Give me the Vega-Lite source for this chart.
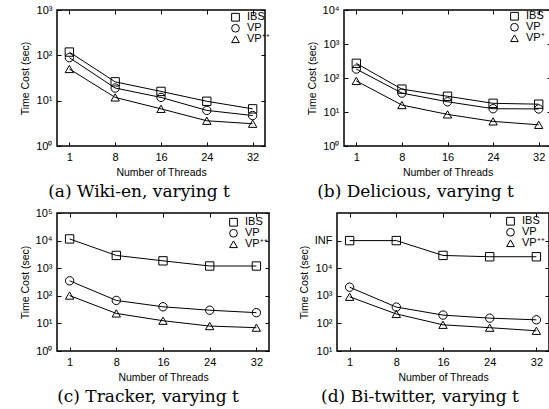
{
  "$schema": "https://vega.github.io/schema/vega-lite/v6.json",
  "padding": {"left": 19, "top": 3, "right": 0, "bottom": 0},
  "background": "white",
  "config": {
    "view": {"stroke": "black", "strokeWidth": 1.5},
    "axis": {"domain": false, "grid": false, "tickColor": "black", "tickSize": -4, "tickWidth": 1,
      "labelFont": "Liberation Sans", "labelFontSize": 11, "labelColor": "black", "labelPadding": 9,
      "titleFont": "Liberation Sans", "titleFontSize": 10.5, "titleFontWeight": "normal", "titleColor": "black", "titlePadding": 5},
    "legend": {"orient": "none", "padding": 0, "rowPadding": -2, "clipHeight": 10.5, "labelFont": "Liberation Sans", "labelFontSize": 11, "labelColor": "black", "labelOffset": 6, "symbolStrokeColor": "black", "symbolStrokeWidth": 1, "symbolSize": 60, "title": null},
    "title": {"orient": "bottom", "font": "DejaVu Serif", "fontSize": 17, "fontWeight": "normal", "color": "black", "offset": 6}
  },
  "datasets": {
    "a": [
      {"t": 1, "time": 118, "method": "IBS"}, {"t": 8, "time": 26, "method": "IBS"}, {"t": 16, "time": 16, "method": "IBS"}, {"t": 24, "time": 9.7, "method": "IBS"}, {"t": 32, "time": 6.6, "method": "IBS"},
      {"t": 1, "time": 89, "method": "VP"}, {"t": 8, "time": 19, "method": "VP"}, {"t": 16, "time": 11.8, "method": "VP"}, {"t": 24, "time": 6.1, "method": "VP"}, {"t": 32, "time": 4.7, "method": "VP"},
      {"t": 1, "time": 50, "method": "VP⁺⁺"}, {"t": 8, "time": 11.8, "method": "VP⁺⁺"}, {"t": 16, "time": 6.6, "method": "VP⁺⁺"}, {"t": 24, "time": 3.6, "method": "VP⁺⁺"}, {"t": 32, "time": 3.1, "method": "VP⁺⁺"}
    ],
    "b": [
      {"t": 1, "time": 270, "method": "IBS"}, {"t": 8, "time": 47, "method": "IBS"}, {"t": 16, "time": 29, "method": "IBS"}, {"t": 24, "time": 18, "method": "IBS"}, {"t": 32, "time": 17, "method": "IBS"},
      {"t": 1, "time": 183, "method": "VP"}, {"t": 8, "time": 36, "method": "VP"}, {"t": 16, "time": 20, "method": "VP"}, {"t": 24, "time": 12.5, "method": "VP"}, {"t": 32, "time": 12.3, "method": "VP"},
      {"t": 1, "time": 82, "method": "VP⁺"}, {"t": 8, "time": 16, "method": "VP⁺"}, {"t": 16, "time": 8.5, "method": "VP⁺"}, {"t": 24, "time": 5.3, "method": "VP⁺"}, {"t": 32, "time": 4.2, "method": "VP⁺"}
    ],
    "c": [
      {"t": 1, "time": 11500, "method": "IBS"}, {"t": 8, "time": 2900, "method": "IBS"}, {"t": 16, "time": 1850, "method": "IBS"}, {"t": 24, "time": 1200, "method": "IBS"}, {"t": 32, "time": 1200, "method": "IBS"},
      {"t": 1, "time": 350, "method": "VP"}, {"t": 8, "time": 68, "method": "VP"}, {"t": 16, "time": 40, "method": "VP"}, {"t": 24, "time": 30, "method": "VP"}, {"t": 32, "time": 24.5, "method": "VP"},
      {"t": 1, "time": 102, "method": "VP⁺⁺"}, {"t": 8, "time": 23, "method": "VP⁺⁺"}, {"t": 16, "time": 12.5, "method": "VP⁺⁺"}, {"t": 24, "time": 8, "method": "VP⁺⁺"}, {"t": 32, "time": 7, "method": "VP⁺⁺"}
    ],
    "d": [
      {"t": 1, "time": 100000, "method": "IBS"}, {"t": 8, "time": 100000, "method": "IBS"}, {"t": 16, "time": 29000, "method": "IBS"}, {"t": 24, "time": 26000, "method": "IBS"}, {"t": 32, "time": 26000, "method": "IBS"},
      {"t": 1, "time": 2050, "method": "VP"}, {"t": 8, "time": 390, "method": "VP"}, {"t": 16, "time": 200, "method": "VP"}, {"t": 24, "time": 155, "method": "VP"}, {"t": 32, "time": 135, "method": "VP"},
      {"t": 1, "time": 920, "method": "VP⁺⁺"}, {"t": 8, "time": 220, "method": "VP⁺⁺"}, {"t": 16, "time": 89, "method": "VP⁺⁺"}, {"t": 24, "time": 70, "method": "VP⁺⁺"}, {"t": 32, "time": 54, "method": "VP⁺⁺"}
    ]
  },
  "vconcat": [
    {
      "hconcat": [
        {
          "width": 208, "height": 136,
          "title": {"text": "(a) Wiki-en, varying t", "dx": -22},
          "data": {"name": "a"},
          "layer": [
            {"mark": {"type": "line", "color": "black", "strokeWidth": 1},
             "encoding": {
               "x": {"field": "t", "type": "ordinal", "scale": {"type": "point", "padding": 0.27}, "axis": {"title": "Number of Threads", "labelAngle": 0}},
               "y": {"field": "time", "type": "quantitative", "scale": {"type": "log", "domain": [1, 1000]}, "axis": {"title": "Time Cost (sec)", "values": [1, 10, 100, 1000], "labelExpr": "'10' + ['⁰','¹','²','³','⁴','⁵','⁶'][round(log(datum.value)/LN10)]"}},
               "detail": {"field": "method", "type": "nominal"}}},
            {"mark": {"type": "point", "filled": false, "stroke": "black", "strokeWidth": 1, "size": 70, "opacity": 1},
             "encoding": {
               "x": {"field": "t", "type": "ordinal", "axis": {"orient": "top", "labels": false, "title": null}},
               "y": {"field": "time", "type": "quantitative", "axis": {"orient": "right", "labels": false, "title": null, "values": [1, 10, 100, 1000]}},
               "shape": {"field": "method", "type": "nominal", "scale": {"domain": ["IBS", "VP", "VP⁺⁺"], "range": ["square", "circle", "triangle-up"]}, "legend": {"legendX": 173, "legendY": 2}}}}
          ],
          "resolve": {"axis": {"x": "independent", "y": "independent"}}
        },
        {
          "width": 207, "height": 136,
          "title": {"text": "(b) Delicious, varying t", "dx": -32},
          "data": {"name": "b"},
          "layer": [
            {"mark": {"type": "line", "color": "black", "strokeWidth": 1},
             "encoding": {
               "x": {"field": "t", "type": "ordinal", "scale": {"type": "point", "padding": 0.27}, "axis": {"title": "Number of Threads", "labelAngle": 0}},
               "y": {"field": "time", "type": "quantitative", "scale": {"type": "log", "domain": [1, 10000]}, "axis": {"title": "Time Cost (sec)", "values": [1, 10, 100, 1000, 10000], "labelExpr": "'10' + ['⁰','¹','²','³','⁴','⁵','⁶'][round(log(datum.value)/LN10)]"}},
               "detail": {"field": "method", "type": "nominal"}}},
            {"mark": {"type": "point", "filled": false, "stroke": "black", "strokeWidth": 1, "size": 70, "opacity": 1},
             "encoding": {
               "x": {"field": "t", "type": "ordinal", "axis": {"orient": "top", "labels": false, "title": null}},
               "y": {"field": "time", "type": "quantitative", "axis": {"orient": "right", "labels": false, "title": null, "values": [1, 10, 100, 1000, 10000]}},
               "shape": {"field": "method", "type": "nominal", "scale": {"domain": ["IBS", "VP", "VP⁺"], "range": ["square", "circle", "triangle-up"]}, "legend": {"legendX": 165, "legendY": 1}}}}
          ],
          "resolve": {"axis": {"x": "independent", "y": "independent"}}
        }
      ],
      "spacing": 35,
      "resolve": {"scale": {"x": "independent", "y": "independent", "shape": "independent"}, "legend": {"shape": "independent"}}
    },
    {
      "hconcat": [
        {
          "width": 212, "height": 138,
          "title": {"text": "(c) Tracker, varying t", "dx": -15},
          "data": {"name": "c"},
          "layer": [
            {"mark": {"type": "line", "color": "black", "strokeWidth": 1},
             "encoding": {
               "x": {"field": "t", "type": "ordinal", "scale": {"type": "point", "padding": 0.27}, "axis": {"title": "Number of Threads", "labelAngle": 0}},
               "y": {"field": "time", "type": "quantitative", "scale": {"type": "log", "domain": [1, 100000]}, "axis": {"title": "Time Cost (sec)", "values": [1, 10, 100, 1000, 10000, 100000], "labelExpr": "'10' + ['⁰','¹','²','³','⁴','⁵','⁶'][round(log(datum.value)/LN10)]"}},
               "detail": {"field": "method", "type": "nominal"}}},
            {"mark": {"type": "point", "filled": false, "stroke": "black", "strokeWidth": 1, "size": 70, "opacity": 1},
             "encoding": {
               "x": {"field": "t", "type": "ordinal", "axis": {"orient": "top", "labels": false, "title": null}},
               "y": {"field": "time", "type": "quantitative", "axis": {"orient": "right", "labels": false, "title": null, "values": [1, 10, 100, 1000, 10000, 100000]}},
               "shape": {"field": "method", "type": "nominal", "scale": {"domain": ["IBS", "VP", "VP⁺⁺"], "range": ["square", "circle", "triangle-up"]}, "legend": {"legendX": 171, "legendY": 4}}}}
          ],
          "resolve": {"axis": {"x": "independent", "y": "independent"}}
        },
        {
          "width": 212, "height": 138,
          "title": {"text": "(d) Bi-twitter, varying t", "dx": -23},
          "data": {"name": "d"},
          "layer": [
            {"mark": {"type": "line", "color": "black", "strokeWidth": 1},
             "encoding": {
               "x": {"field": "t", "type": "ordinal", "scale": {"type": "point", "padding": 0.27}, "axis": {"title": "Number of Threads", "labelAngle": 0}},
               "y": {"field": "time", "type": "quantitative", "scale": {"type": "log", "domain": [10, 1000000]}, "axis": {"title": "Time Cost (sec)", "values": [10, 100, 1000, 10000, 100000], "labelExpr": "datum.value >= 100000 ? 'INF' : '10' + ['⁰','¹','²','³','⁴','⁵','⁶'][round(log(datum.value)/LN10)]"}},
               "detail": {"field": "method", "type": "nominal"}}},
            {"mark": {"type": "point", "filled": false, "stroke": "black", "strokeWidth": 1, "size": 70, "opacity": 1},
             "encoding": {
               "x": {"field": "t", "type": "ordinal", "axis": {"orient": "top", "labels": false, "title": null}},
               "y": {"field": "time", "type": "quantitative", "axis": {"orient": "right", "labels": false, "title": null, "values": [10, 100, 1000, 10000, 100000]}},
               "shape": {"field": "method", "type": "nominal", "scale": {"domain": ["IBS", "VP", "VP⁺⁺"], "range": ["square", "circle", "triangle-up"]}, "legend": {"legendX": 168, "legendY": 3}}}}
          ],
          "resolve": {"axis": {"x": "independent", "y": "independent"}}
        }
      ],
      "spacing": 27,
      "resolve": {"scale": {"x": "independent", "y": "independent", "shape": "independent"}, "legend": {"shape": "independent"}}
    }
  ],
  "spacing": 5,
  "resolve": {"scale": {"x": "independent", "y": "independent", "shape": "independent"}, "legend": {"shape": "independent"}}
}
